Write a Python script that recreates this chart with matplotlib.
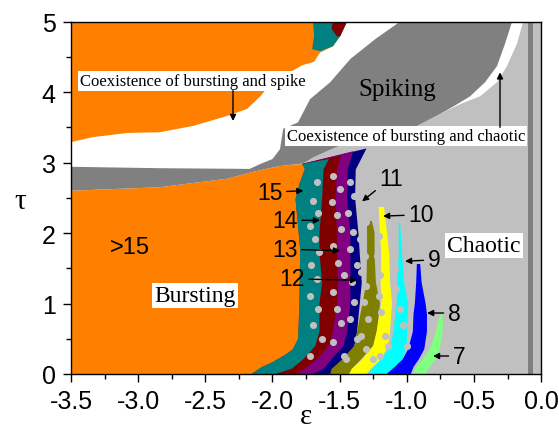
import matplotlib
matplotlib.use('Agg')
import matplotlib.pyplot as plt
from matplotlib.ticker import MultipleLocator

# ---------------- region colours ----------------
ORANGE = '#ff8000'
DGRAY = '#808080'
LGRAY = '#c0c0c0'
BAND_COLORS = {15: '#008080', 14: '#800000', 13: '#800080', 12: '#000080',
               11: '#808000', 10: '#ffff00', 9: '#00ffff', 8: '#0000ff', 7: '#80ff80'}

# ---------------- boundaries (eps, tau) ----------------
# right edge of the lower bursting (>15) region, tau ascending
burst_edge_tau = [0, 0.10, 0.17, 0.27, 0.35, 0.50, 1.06, 1.77, 2.48, 2.70, 2.91, 2.98]
burst_edge_eps = [-2.16, -2.08, -2.00, -1.91, -1.85, -1.81, -1.80, -1.795, -1.83, -1.80, -1.76, -1.78]
# upper edge of the lower bursting region, right to left
burst_top_eps = [-1.95, -2.14, -2.34, -2.84, -3.5]
burst_top_tau = [2.95, 2.87, 2.77, 2.65, 2.60]

# upper bursting region (top left), lower/right edge from top right to left
upper_burst_eps = [-1.445, -1.497, -1.55, -1.646, -1.69, -1.78, -1.87, -2.06, -2.09, -2.19,
                   -2.34, -2.59, -2.84, -3.08, -3.34, -3.5]
upper_burst_tau = [5.0, 4.79, 4.65, 4.56, 4.43, 4.38, 4.28, 4.01, 3.94, 3.76,
                   3.66, 3.52, 3.43, 3.42, 3.36, 3.29]
upper_teal_eps = [-1.698, -1.445, -1.497, -1.55, -1.646, -1.705, -1.69]
upper_teal_tau = [5.0, 5.0, 4.79, 4.65, 4.58, 4.61, 4.80]
upper_red_eps = [-1.55, -1.445, -1.497, -1.52, -1.56]
upper_red_tau = [5.0, 5.0, 4.79, 4.79, 4.9]

# spiking region: upper-left edge (left to top)
spike_left_eps = [-3.5, -2.84, -2.17, -2.09, -2.00, -1.944, -1.92, -1.81, -1.72, -1.57,
                  -1.42, -1.236, -1.05]
spike_left_tau = [2.94, 2.92, 2.91, 2.98, 3.05, 3.19, 3.48, 3.57, 3.90, 4.14,
                  4.47, 4.75, 5.0]
# spiking region: right/lower edge (top to bottom left)
spike_right_eps = [-0.216, -0.268, -0.328, -0.417, -0.529, -0.641, -0.752, -0.924, -1.2,
                   -1.50, -1.62, -1.70, -1.76, -1.80]
spike_right_tau = [5.0, 4.69, 4.37, 4.14, 3.94, 3.81, 3.69, 3.52, 3.40,
                   3.24, 3.14, 3.07, 3.00, 2.98]
# edge of the chaotic region next to the white (bursting+chaotic) strip
chaos_edge_eps = [-0.134, -0.179, -0.254, -0.328, -0.455, -0.589, -0.70]
chaos_edge_tau = [5.0, 4.69, 4.37, 4.14, 3.94, 3.84, 3.74]
# narrow dark gray column near eps = 0
column_eps = [-0.10, -0.063]

# bands 15..12 touch each other: right edges only
stack_tau = [0, 0.07, 0.21, 0.4, 0.6, 1.0, 1.3, 1.7, 2.0, 2.5, 2.9]
stack_top_tau = {15: 3.05, 14: 3.10, 13: 3.16, 12: 3.20}
stack_right = {
    15: [-1.98, -1.86, -1.77, -1.68, -1.65, -1.65, -1.63, -1.65, -1.65, -1.63, -1.62, -1.58],
    14: [-1.83, -1.76, -1.67, -1.58, -1.55, -1.52, -1.51, -1.52, -1.52, -1.53, -1.52, -1.49],
    13: [-1.70, -1.62, -1.56, -1.47, -1.445, -1.42, -1.42, -1.42, -1.42, -1.445, -1.44, -1.40],
    12: [-1.56, -1.52, -1.445, -1.39, -1.37, -1.35, -1.335, -1.35, -1.36, -1.385, -1.38, -1.30],
}
# bands 11..7 are separate stripes: tau, left edge, right edge
stripe_tau = {
    11: [0, 0.07, 0.21, 0.4, 0.6, 1.0, 1.3, 1.7, 2.0, 2.17],
    10: [0, 0.07, 0.21, 0.4, 0.6, 1.0, 1.3, 1.7, 2.0, 2.37],
    9: [0, 0.07, 0.21, 0.4, 0.6, 1.0, 1.3, 1.7, 2.15],
    8: [0, 0.1, 0.21, 0.35, 0.6, 0.85, 1.0, 1.3, 1.56],
    7: [0, 0.1, 0.21, 0.35, 0.5, 0.7, 0.84],
}
stripe_lo = {
    11: [-1.57, -1.56, -1.48, -1.39, -1.37, -1.33, -1.30, -1.296, -1.296, -1.296],
    10: [-1.43, -1.41, -1.33, -1.25, -1.225, -1.19, -1.195, -1.19, -1.20, -1.21],
    9: [-1.29, -1.26, -1.19, -1.12, -1.10, -1.075, -1.07, -1.06, -1.06],
    8: [-1.15, -1.09, -1.03, -0.99, -0.955, -0.95, -0.94, -0.93, -0.925],
    7: [-0.96, -0.93, -0.88, -0.83, -0.80, -0.77, -0.755],
}
stripe_hi = {
    11: [-1.42, -1.41, -1.34, -1.25, -1.222, -1.20, -1.23, -1.24, -1.24, -1.26],
    10: [-1.30, -1.27, -1.19, -1.14, -1.125, -1.11, -1.125, -1.13, -1.147, -1.17],
    9: [-1.14, -1.10, -1.03, -1.00, -0.998, -0.99, -1.02, -1.035, -1.05],
    8: [-0.97, -0.95, -0.91, -0.87, -0.85, -0.85, -0.86, -0.89, -0.90],
    7: [-0.86, -0.83, -0.78, -0.755, -0.74, -0.73, -0.735],
}

# light gray dots scattered over the bands
dot_eps = [-1.67, -1.70, -1.66, -1.72, -1.68, -1.65, -1.71, -1.67, -1.72, -1.66, -1.70, -1.63, -1.72,
           -1.55, -1.50, -1.56, -1.52, -1.49, -1.55, -1.51, -1.47, -1.55, -1.52, -1.49, -1.55, -1.47,
           -1.42, -1.39, -1.44, -1.40, -1.42, -1.37, -1.41, -1.39, -1.42, -1.37, -1.45,
           -1.34, -1.30, -1.35, -1.31, -1.34, -1.30, -1.32, -1.29, -1.34, -1.30, -1.25,
           -1.21, -1.22, -1.20, -1.21, -1.19, -1.16, -1.14, -1.20,
           -1.10, -1.09, -1.08, -1.05, -1.03, -1.00]
dot_tau = [2.72, 2.46, 2.29, 2.10, 1.92, 1.73, 1.54, 1.35, 1.11, 0.92, 0.69, 0.50, 0.26,
           2.81, 2.62, 2.44, 2.25, 2.06, 1.82, 1.58, 1.40, 1.16, 0.92, 0.73, 0.45, 0.26,
           2.72, 2.53, 2.29, 2.01, 1.77, 1.54, 1.30, 1.02, 0.78, 0.50, 0.21,
           2.34, 2.15, 1.92, 1.68, 1.44, 1.25, 1.02, 0.78, 0.54, 0.36, 0.21,
           1.96, 1.68, 1.40, 1.11, 0.88, 0.54, 0.40, 0.26,
           1.77, 1.49, 1.21, 0.92, 0.69, 0.40]

# numbered band labels: text position and arrow head
num_labels = ['15', '14', '13', '12', '11', '10', '9', '8', '7']
num_text_eps = [-2.02, -1.907, -1.907, -1.855, -1.117, -0.894, -0.797, -0.648, -0.611]
num_text_tau = [2.58, 2.18, 1.77, 1.35, 2.78, 2.26, 1.62, 0.865, 0.255]
num_head_eps = [-1.77, -1.646, -1.497, -1.37, -1.333, -1.177, -1.013, -0.849, -0.805]
num_head_tau = [2.60, 2.18, 1.75, 1.33, 2.45, 2.24, 1.60, 0.865, 0.255]


def main():
    fig = plt.figure(figsize=(5.59, 4.35), dpi=100)
    ax = fig.add_axes([0.127, 0.138, 0.841, 0.810])
    ax.set_facecolor('white')
    kw = dict(linewidth=0, antialiased=True)

    # chaotic background (right part)
    ax.fill(chaos_edge_eps + spike_right_eps[7:] + [-1.80, 0.0, 0.0],
            chaos_edge_tau + spike_right_tau[7:] + [0.0, 0.0, 5.0], color=LGRAY, zorder=1, **kw)
    ax.fill([column_eps[0], column_eps[1], column_eps[1], column_eps[0]], [0, 0, 5, 5],
            color=DGRAY, zorder=1.5, **kw)

    # bands 12..15, each drawn from the bursting edge to its own right edge
    for k in [12, 13, 14, 15]:
        xs = stack_right[k] + burst_edge_eps[::-1]
        ys = stack_tau + [stack_top_tau[k]] + burst_edge_tau[::-1]
        ax.fill(xs, ys, color=BAND_COLORS[k], zorder=2, **kw)
    for k in [11, 10, 9, 8, 7]:
        xs = stripe_lo[k] + stripe_hi[k][::-1]
        ys = stripe_tau[k] + stripe_tau[k][::-1]
        ax.fill(xs, ys, color=BAND_COLORS[k], zorder=2, **kw)

    ax.scatter(dot_eps, dot_tau, s=26, color=LGRAY, linewidths=0, zorder=2.5)

    # lower bursting region
    ax.fill([-3.5] + burst_edge_eps + burst_top_eps, [0.0] + burst_edge_tau + burst_top_tau,
            color=ORANGE, zorder=3, **kw)
    # spiking region
    ax.fill(spike_left_eps + spike_right_eps + burst_top_eps,
            spike_left_tau + spike_right_tau + burst_top_tau, color=DGRAY, zorder=3, **kw)
    # upper bursting region
    ax.fill([-3.5] + upper_burst_eps, [5.0] + upper_burst_tau, color=ORANGE, zorder=3, **kw)
    ax.fill(upper_teal_eps, upper_teal_tau, color=BAND_COLORS[15], zorder=3.2, **kw)
    ax.fill(upper_red_eps, upper_red_tau, color=BAND_COLORS[14], zorder=3.3, **kw)

    # text
    serif = 'Liberation Serif'
    sans = 'Liberation Sans'
    box = dict(facecolor='white', edgecolor='none', pad=1.5)
    ax.text(-3.433, 4.16, 'Coexistence of bursting and spike', family=serif, fontsize=12,
            ha='left', va='center', bbox=box, zorder=5)
    ax.annotate('', xy=(-2.294, 3.59), xytext=(-2.294, 4.02),
                arrowprops=dict(arrowstyle='-|>', color='k', lw=1, mutation_scale=9,
                                shrinkA=0, shrinkB=0), zorder=6)
    ax.text(-1.006, 3.38, 'Coexistence of bursting and chaotic', family=serif, fontsize=12,
            ha='center', va='center', bbox=box, zorder=5)
    ax.annotate('', xy=(-0.306, 4.28), xytext=(-0.306, 3.50),
                arrowprops=dict(arrowstyle='-|>', color='k', lw=1, mutation_scale=9,
                                shrinkA=0, shrinkB=0), zorder=6)
    ax.text(-1.073, 4.04, 'Spiking', family=serif, fontsize=18, ha='center', va='center',
            zorder=5)
    ax.text(-0.425, 1.82, 'Chaotic', family=serif, fontsize=17, ha='center', va='center',
            bbox=box, zorder=5)
    ax.text(-2.577, 1.11, 'Bursting', family=serif, fontsize=17, ha='center', va='center',
            bbox=box, zorder=5)
    ax.text(-3.06, 1.80, '>15', family=sans, fontsize=17, ha='center', va='center', zorder=5)

    for lab, tx, ty, hx, hy in zip(num_labels, num_text_eps, num_text_tau, num_head_eps, num_head_tau):
        ax.annotate(lab, xy=(hx, hy), xytext=(tx, ty), family=sans, fontsize=16.5,
                    ha='center', va='center', zorder=6,
                    arrowprops=dict(arrowstyle='-|>', color='k', lw=1, mutation_scale=9,
                                    shrinkA=1, shrinkB=0))

    # axes
    ax.set_xlim(-3.5, 0.0)
    ax.set_ylim(0, 5)
    ax.xaxis.set_minor_locator(MultipleLocator(0.25))
    ax.yaxis.set_minor_locator(MultipleLocator(0.5))
    ax.set_xticks([-3.5, -3.0, -2.5, -2.0, -1.5, -1.0, -0.5, 0.0])
    ax.set_xticklabels(['-3.5', '-3.0', '-2.5', '-2.0', '-1.5', '-1.0', '-0.5', '0.0'])
    ax.set_yticks([0, 1, 2, 3, 4, 5])
    ax.set_yticklabels(['0', '1', '2', '3', '4', '5'])
    ax.tick_params(which='major', direction='out', length=6, width=1, pad=5, labelsize=18)
    ax.tick_params(which='minor', direction='out', length=3.5, width=1)
    for t in ax.get_xticklabels() + ax.get_yticklabels():
        t.set_family(sans)
    for s in ax.spines.values():
        s.set_linewidth(1.0)
        s.set_zorder(7)

    ax.set_xlabel('ε', family=serif, fontsize=21, va='center')
    ax.xaxis.set_label_coords(0.5, -0.118)
    ax.set_ylabel('τ', family=serif, fontsize=21, rotation=0, va='center')
    ax.yaxis.set_label_coords(-0.108, 0.49)

    fig.savefig('out.png', dpi=100)


if __name__ == '__main__':
    main()
